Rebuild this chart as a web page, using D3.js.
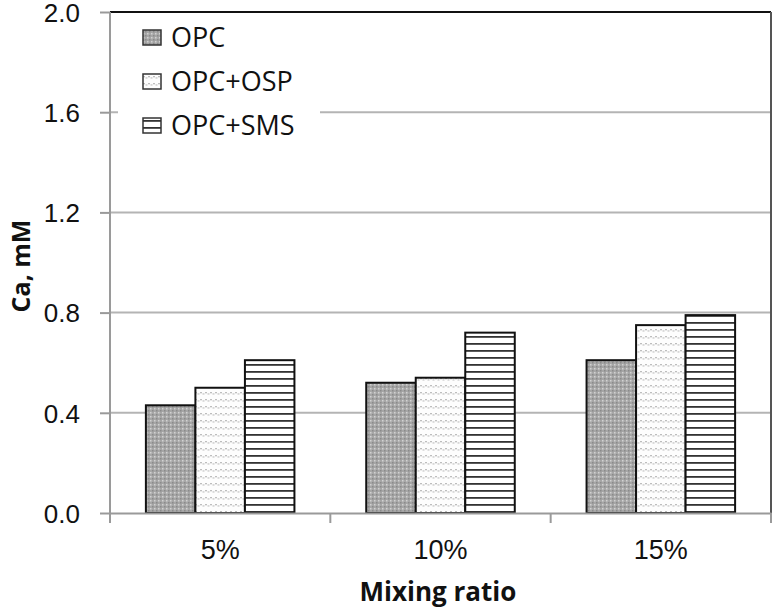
<!DOCTYPE html>
<html lang="en">
  <head>
    <meta charset="utf-8">
    <title>Ca, mM by mixing ratio</title>
    <script src="https://d3js.org/d3.v7.min.js"></script>
    <style>
      body { margin: 0; background: #fff; }
      svg { display: block; font-family: "Open Sans", sans-serif; }
    </style>
  </head>
  <body>
    <div id="chart"></div>
    <script>
      // data
      const categories = ["5%", "10%", "15%"];
      const seriesNames = ["OPC", "OPC+OSP", "OPC+SMS"];
      const opc    = [0.43, 0.52, 0.61];
      const opcOsp = [0.50, 0.54, 0.75];
      const opcSms = [0.61, 0.72, 0.79];
      const yTicks = [0.0, 0.4, 0.8, 1.2, 1.6, 2.0];

      const seriesValues = [opc, opcOsp, opcSms];
      const fills = ["url(#pOpc)", "url(#pOsp)", "url(#pSms)"];

      var margin = {top: 12, right: 4, bottom: 97, left: 110},
          width = 775 - margin.left - margin.right,
          height = 610 - margin.top - margin.bottom;

      const svg = d3.select("#chart")
        .append("svg")
          .attr("width", 775)
          .attr("height", 610);

      // hatch patterns like the excel fills
      const defs = svg.append("defs");
      const p1 = defs.append("pattern").attr("id", "pOpc")
        .attr("patternUnits", "userSpaceOnUse").attr("width", 4).attr("height", 4);
      p1.append("rect").attr("width", 4).attr("height", 4).attr("fill", "#a6a6a6");
      p1.append("rect").attr("x", 0).attr("y", 0).attr("width", 1.5).attr("height", 1.5).attr("fill", "#d2d2d2");
      p1.append("rect").attr("x", 2).attr("y", 2).attr("width", 1.5).attr("height", 1.5).attr("fill", "#8a8a8a");

      const p2 = defs.append("pattern").attr("id", "pOsp")
        .attr("patternUnits", "userSpaceOnUse").attr("width", 5).attr("height", 7);
      p2.append("rect").attr("width", 5).attr("height", 7).attr("fill", "#fdfdfd");
      p2.append("rect").attr("x", 0).attr("y", 2).attr("width", 2).attr("height", 1.3).attr("fill", "#bdbdbd");
      p2.append("rect").attr("x", 2.5).attr("y", 3.3).attr("width", 2).attr("height", 1.3).attr("fill", "#c8c8c8");

      const p3 = defs.append("pattern").attr("id", "pSms")
        .attr("patternUnits", "userSpaceOnUse").attr("width", 8).attr("height", 7);
      p3.append("rect").attr("width", 8).attr("height", 7).attr("fill", "#ffffff");
      p3.append("rect").attr("y", 2).attr("width", 8).attr("height", 1.8).attr("fill", "#333");

      const g = svg.append("g")
        .attr("transform", `translate(${margin.left}, ${margin.top})`);

      const x0 = d3.scaleBand()
        .domain(categories)
        .range([0, width])
        .padding(0);

      const x1 = d3.scaleBand()
        .domain(seriesNames)
        .range([0, x0.bandwidth()])
        .paddingInner(0)
        .paddingOuter(0.725);

      const y = d3.scaleLinear()
        .domain([0, 2])
        .range([height, 0]);

      // gridlines
      g.append("g")
        .selectAll("line")
        .data(yTicks.slice(1, -1))
        .join("line")
          .attr("x1", 0).attr("x2", width)
          .attr("y1", d => y(d)).attr("y2", d => y(d))
          .attr("stroke", "#b4b4b4")
          .attr("stroke-width", 2);

      // top line is black in the picture
      g.append("line")
        .attr("x1", 0).attr("x2", width)
        .attr("y1", y(2)).attr("y2", y(2))
        .attr("stroke", "#111").attr("stroke-width", 2);
      g.append("line")
        .attr("x1", width).attr("x2", width)
        .attr("y1", y(2)).attr("y2", height)
        .attr("stroke", "#555").attr("stroke-width", 2);

      // legend box hides the 1.6 gridline
      g.append("rect")
        .attr("x", 8).attr("y", 6)
        .attr("width", 202).attr("height", 134)
        .attr("fill", "#fff");

      // bars
      seriesNames.forEach(function(name, i) {
        g.append("g")
          .selectAll("rect")
          .data(categories.map((c, j) => ({cat: c, v: seriesValues[i][j]})))
          .join("rect")
            .attr("x", d => x0(d.cat) + x1(name))
            .attr("y", d => y(d.v))
            .attr("width", x1.bandwidth())
            .attr("height", d => height - y(d.v))
            .attr("fill", fills[i])
            .attr("stroke", "#111")
            .attr("stroke-width", 2);
      });

      // y axis
      const yAxis = g.append("g")
        .call(d3.axisLeft(y).tickValues(yTicks).tickFormat(d3.format(".1f")).tickSize(10).tickPadding(20));
      yAxis.selectAll("line, path").attr("stroke", "#9a9a9a").attr("stroke-width", 2);
      yAxis.select(".domain").attr("d", `M0,${y(2)}V${height}`);
      yAxis.selectAll("text")
        .style("font-size", "26px")
        .attr("dy", "0.36em")
        .attr("fill", "#111");

      // x axis, ticks sit between categories
      const xAxis = g.append("g")
        .attr("transform", `translate(0, ${height})`)
        .call(d3.axisBottom(x0).tickSize(0).tickPadding(27));
      xAxis.select(".domain").attr("stroke", "#9a9a9a").attr("stroke-width", 2);
      xAxis.selectAll("text")
        .style("font-size", "27px")
        .attr("fill", "#111");
      xAxis.selectAll(".sep")
        .data(categories)
        .join("line")
          .attr("class", "sep")
          .attr("x1", d => x0(d) + x0.bandwidth()).attr("x2", d => x0(d) + x0.bandwidth())
          .attr("y1", 0).attr("y2", 10)
          .attr("stroke", "#9a9a9a").attr("stroke-width", 2);
      xAxis.append("line")
        .attr("x1", 0).attr("x2", 0).attr("y1", 0).attr("y2", 10)
        .attr("stroke", "#9a9a9a").attr("stroke-width", 2);

      // axis titles
      svg.append("text")
        .attr("x", 438)
        .attr("y", 601)
        .attr("text-anchor", "middle")
        .style("font-size", "26px")
        .style("font-weight", "bold")
        .attr("fill", "#111")
        .text("Mixing ratio");

      svg.append("text")
        .attr("transform", `translate(30, 266) rotate(-90)`)
        .attr("text-anchor", "middle")
        .style("font-size", "25px")
        .style("font-weight", "bold")
        .attr("fill", "#111")
        .text("Ca, mM");

      // legend
      const legend = g.append("g")
        .selectAll("g")
        .data(seriesNames)
        .join("g")
          .attr("transform", (d, i) => `translate(33, ${25 + i * 44})`);
      legend.append("rect")
        .attr("x", 0).attr("y", -7)
        .attr("width", 18).attr("height", 15)
        .attr("fill", (d, i) => fills[i])
        .attr("stroke", "#333")
        .attr("stroke-width", 1.5);
      legend.append("text")
        .attr("x", 28)
        .attr("dy", "0.36em")
        .style("font-size", "27px")
        .attr("fill", "#111")
        .text(d => d);
    </script>
  </body>
</html>
